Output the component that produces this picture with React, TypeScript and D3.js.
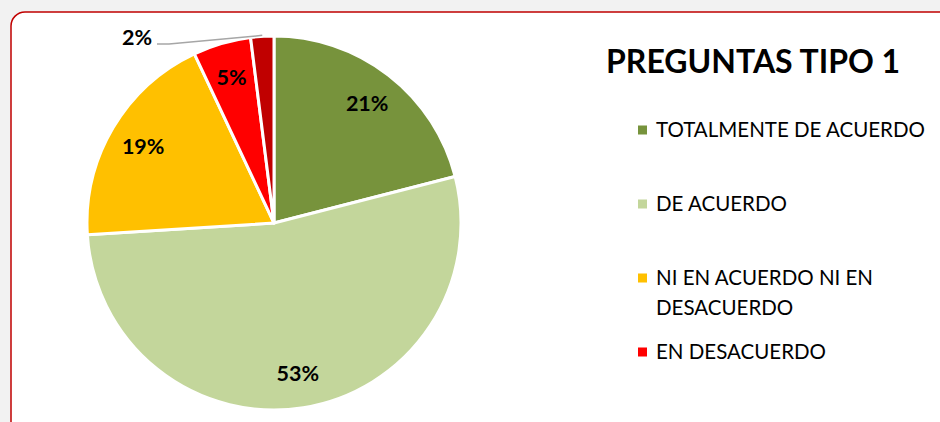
import React from "react";
import * as d3 from "d3";

const categories = [
  "TOTALMENTE DE ACUERDO",
  "DE ACUERDO",
  "NI EN ACUERDO NI EN DESACUERDO",
  "EN DESACUERDO",
  "TOTALMENTE EN DESACUERDO",
];
const values = [21, 53, 19, 5, 2];
const colors = ["#77933C", "#C3D69B", "#FFC000", "#FF0000", "#C00000"];
const legendLines = [
  ["TOTALMENTE DE ACUERDO"],
  ["DE ACUERDO"],
  ["NI EN ACUERDO NI EN", "DESACUERDO"],
  ["EN DESACUERDO"],
];
const title = "PREGUNTAS TIPO 1";

const W = 940;
const H = 422;
const cx = 274;
const cy = 223;
const R = 187;
const FONT = "Lato, 'Open Sans', sans-serif";

export default function App() {
  const data = categories.map((c, i) => ({ c, v: values[i], color: colors[i] }));
  const pie = d3.pie<any>().value((d) => d.v).sort(null);
  const arcs = pie(data);
  const arc = d3.arc<any>().innerRadius(0).outerRadius(R);
  const labelArc = d3.arc<any>().innerRadius(152).outerRadius(152);
  const outerArc = d3.arc<any>().innerRadius(R).outerRadius(R);
  const total = d3.sum(values);
  const fmt = (v: number) => `${Math.round((v / total) * 100)}%`;

  const legendY = d3.scalePoint<number>().domain([0, 1, 2, 3]).range([130, 352]);

  return (
    <svg
      width={W}
      height={H}
      style={{ position: "absolute", left: 0, top: 0, display: "block" }}
    >
      <rect x={0} y={0} width={W} height={H} fill="#F2F2F2" />
      <rect
        x={11}
        y={12}
        width={W + 20}
        height={H + 20}
        rx={14}
        ry={14}
        fill="#FFFFFF"
        stroke="#C00000"
        strokeWidth={1.5}
      />
      <g transform={`translate(${cx},${cy})`}>
        {arcs.map((a, i) => (
          <path key={i} d={arc(a) as string} fill={a.data.color} stroke="#FFFFFF" strokeWidth={3} strokeLinejoin="round" />
        ))}
        {arcs.map((a, i) => {
          if (i === 4) {
            const [ox, oy] = outerArc.centroid(a);
            const lx = 157 - cx;
            const ly = 44 - cy;
            return (
              <g key={i}>
                <polyline
                  points={`${lx},${ly} ${lx + 12},${ly} ${ox},${oy - 1}`}
                  fill="none"
                  stroke="#A6A6A6"
                  strokeWidth={1.5}
                />
                <text
                  x={lx - 5}
                  y={ly - 7}
                  textAnchor="end"
                  dominantBaseline="central"
                  fontFamily={FONT}
                  fontWeight="bold"
                  fontSize={21.5}
                  fill="#000"
                >
                  {fmt(a.data.v)}
                </text>
              </g>
            );
          }
          const [lx, ly] = labelArc.centroid(a);
          return (
            <text
              key={i}
              x={lx}
              y={ly}
              textAnchor="middle"
              dominantBaseline="central"
              fontFamily={FONT}
              fontWeight="bold"
              fontSize={21.5}
              fill="#000"
            >
              {fmt(a.data.v)}
            </text>
          );
        })}
      </g>
      <text x={606} y={73} fontFamily={FONT} fontWeight="bold" fontSize={32} fill="#000">
        {title}
      </text>
      {legendLines.map((lines, i) => {
        const y = legendY(i) as number;
        return (
          <g key={i}>
            <rect x={638} y={y - 4.5} width={9} height={9} fill={colors[i]} />
            {lines.map((t, j) => (
              <text
                key={j}
                x={656}
                y={y + 7 + j * 30}
                fontFamily={FONT}
                fontSize={20.5}
                fill="#000"
              >
                {t}
              </text>
            ))}
          </g>
        );
      })}
    </svg>
  );
}
